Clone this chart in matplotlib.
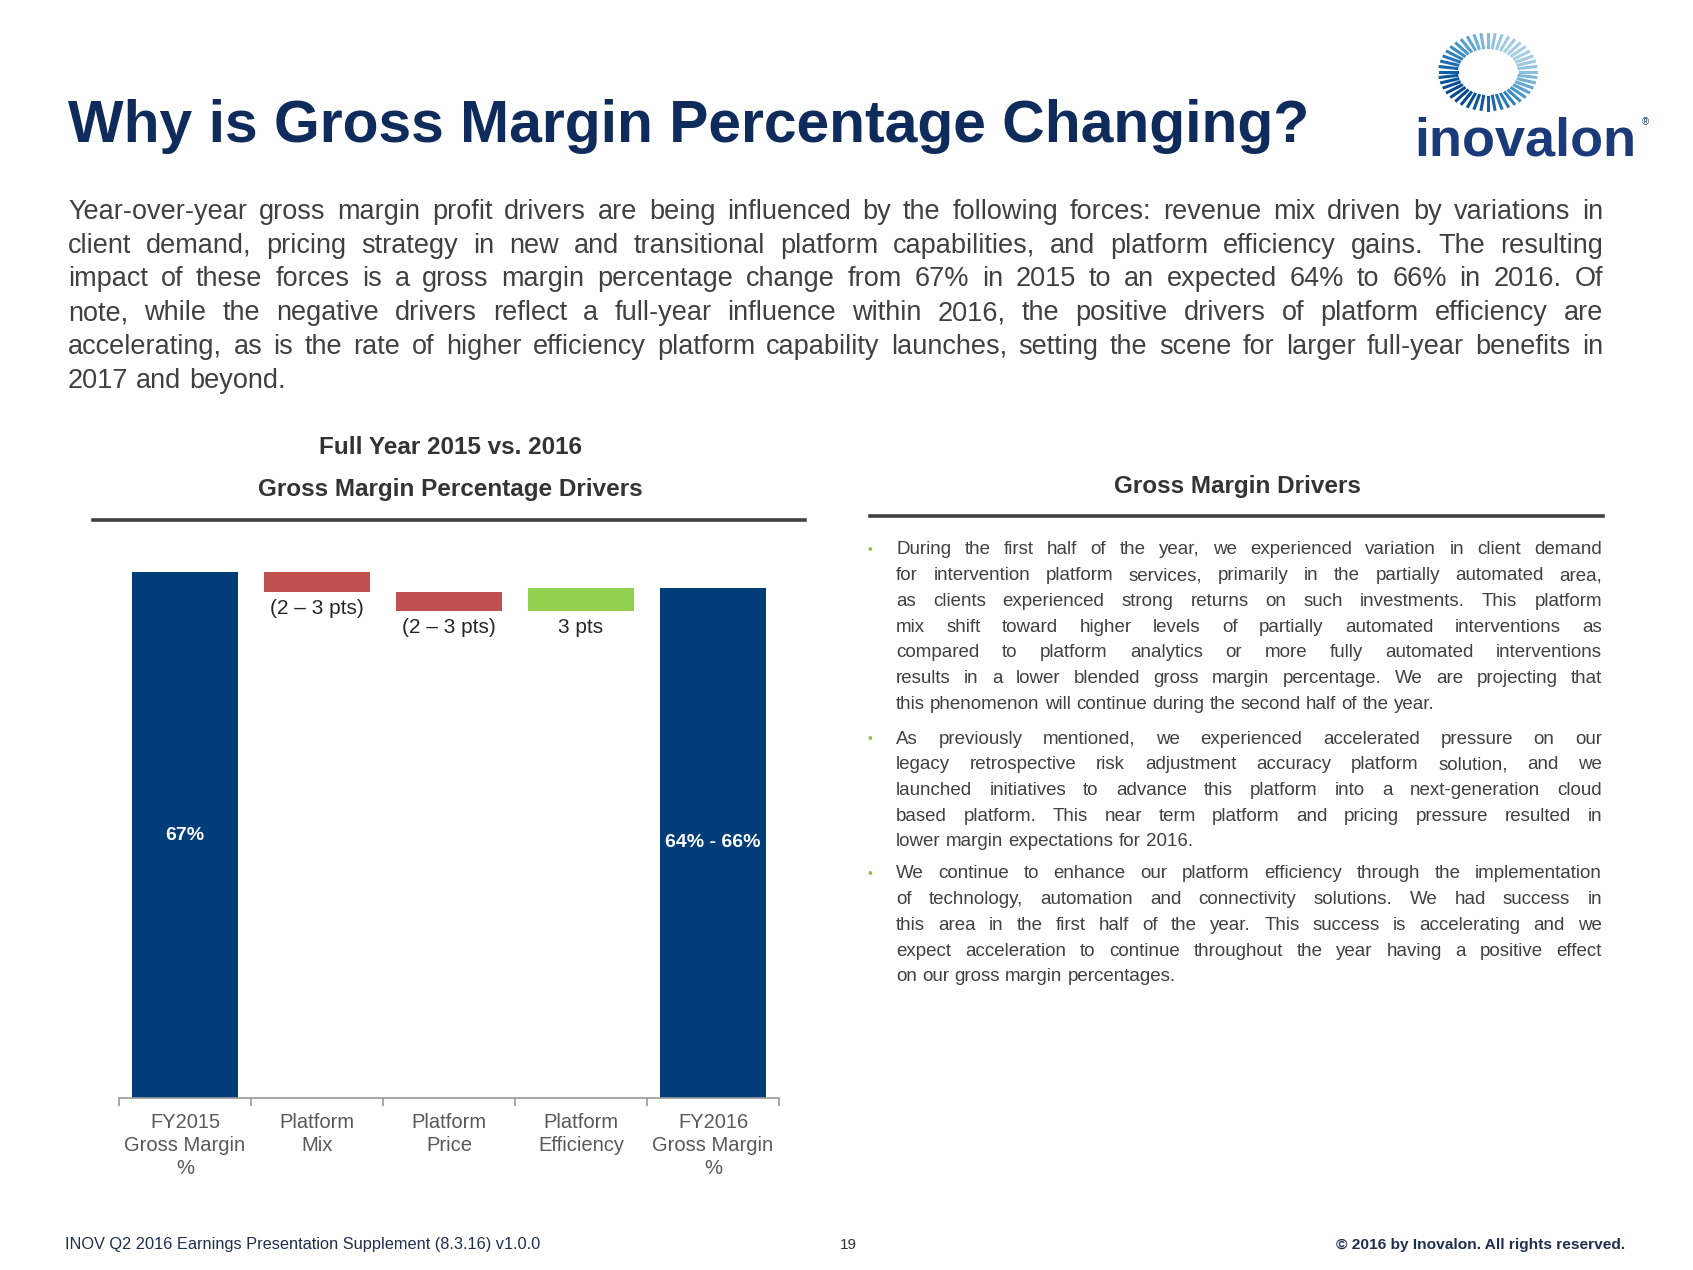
import numpy as np
import matplotlib
matplotlib.use("Agg")
import matplotlib.pyplot as plt
from matplotlib.lines import Line2D

plt.rcParams['font.family'] = ['Liberation Sans', 'DejaVu Sans']

# 数据
categories = ["FY2015\nGross Margin\n%", "Platform\nMix", "Platform\nPrice",
              "Platform\nEfficiency", "FY2016\nGross Margin\n%"]
start_value = 67.0
changes = [-2.5, -2.5, 3.0]
end_value = 65.0
change_labels = ["(2 \u2013 3 pts)", "(2 \u2013 3 pts)", "3 pts"]
total_labels = ["67%", "64% - 66%"]

title = "Why is Gross Margin Percentage Changing?"
intro_lines = [
    "Year-over-year gross margin profit drivers are being influenced by the following forces: revenue mix driven by variations in",
    "client demand, pricing strategy in new and transitional platform capabilities, and platform efficiency gains. The resulting",
    "impact of these forces is a gross margin percentage change from 67% in 2015 to an expected 64% to 66% in 2016. Of",
    "note, while the negative drivers reflect a full-year influence within 2016, the positive drivers of platform efficiency are",
    "accelerating, as is the rate of higher efficiency platform capability launches, setting the scene for larger full-year benefits in",
    "2017 and beyond.",
]
bullets = [
    ["During the first half of the year, we experienced variation in client demand",
     "for intervention platform services, primarily in the partially automated area,",
     "as clients experienced strong returns on such investments. This platform",
     "mix shift toward higher levels of partially automated interventions as",
     "compared to platform analytics or more fully automated interventions",
     "results in a lower blended gross margin percentage.  We are projecting that",
     "this phenomenon will continue during the second half of the year."],
    ["As previously mentioned, we experienced accelerated pressure on our",
     "legacy retrospective risk adjustment accuracy platform solution, and we",
     "launched initiatives to advance this platform into a next-generation cloud",
     "based platform. This near term platform and pricing pressure resulted in",
     "lower margin expectations for 2016."],
    ["We continue to enhance our platform efficiency through the implementation",
     "of technology, automation and connectivity solutions. We had success in",
     "this area in the first half of the year. This success is accelerating and we",
     "expect acceleration to continue throughout the year having a positive effect",
     "on our gross margin percentages."],
]

NAVY = '#003D79'
RED = '#C0504D'
GREEN = '#92D050'
TITLE_C = '#0F2B5B'
TEXT_C = '#404040'

W, H = 1693, 1270
fig = plt.figure(figsize=(W / 100, H / 100), dpi=100)
fig.patch.set_facecolor('white')
renderer = fig.canvas.get_renderer()


def fx(x):
    return x / W


def fy(y):
    return 1 - y / H


def text_width(s, size, **kw):
    t = fig.text(0, 0, s, fontsize=size, **kw)
    w = t.get_window_extent(renderer).width
    t.remove()
    return w


def fit_size(s, width, **kw):
    return 40 * width / text_width(s, 40, **kw)


def justify(lines, x0, x1, y0, dy, max_size, **kw):
    """两端对齐的段落, 最后一行左对齐"""
    size = max_size
    for line in lines[:-1]:
        nat = text_width(line, max_size, **kw)
        size = min(size, max_size * (x1 - x0) / nat * 0.995)
    space = text_width("a a", size, **kw) - text_width("aa", size, **kw)
    for i, line in enumerate(lines):
        words = line.split()
        y = y0 + i * dy
        texts = [fig.text(0, fy(y), w, fontsize=size, va='center', ha='left', **kw) for w in words]
        widths = [t.get_window_extent(renderer).width for t in texts]
        if i == len(lines) - 1 or len(words) < 2:
            gap = space
        else:
            gap = (x1 - x0 - sum(widths)) / (len(words) - 1)
        x = x0
        for t, w in zip(texts, widths):
            t.set_x(fx(x))
            x += w + gap
    return size


# 标题
fig.text(fx(68), fy(126), title, fontsize=fit_size(title, 1242, weight='bold'),
         weight='bold', color=TITLE_C, va='center', ha='left')

# 段落
justify(intro_lines, 68, 1603, 212, 33.7, 19.5, color=TEXT_C)

# 图表标题
fig.text(fx(450), fy(447), "Full Year 2015 vs. 2016", fontsize=17.5, weight='bold',
         color='#333333', ha='center', va='center')
fig.text(fx(450), fy(489), "Gross Margin Percentage Drivers", fontsize=17.5, weight='bold',
         color='#333333', ha='center', va='center')
fig.add_artist(Line2D([fx(93), fx(805)], [fy(520), fy(520)], color='#404040', lw=2.6))

fig.text(fx(1237), fy(487), "Gross Margin Drivers", fontsize=17.5, weight='bold',
         color='#333333', ha='center', va='center')
fig.add_artist(Line2D([fx(870), fx(1603)], [fy(516), fy(516)], color='#404040', lw=2.6))

# 瀑布图
ax = fig.add_axes([fx(119), 1 - 1098 / H, 660 / W, 549.5 / H])
x = np.arange(len(categories))
bottoms = []
heights = []
level = start_value
for c in changes:
    bottoms.append(min(level, level + c))
    heights.append(abs(c))
    level += c
colors = [RED if c < 0 else GREEN for c in changes]

ax.bar(x[0], start_value, width=0.8, color=NAVY)
ax.bar(x[1:4], heights, bottom=bottoms, width=0.8, color=colors)
ax.bar(x[4], end_value, width=0.8, color=NAVY)

ax.text(x[0], start_value / 2, total_labels[0], color='white', fontsize=14, weight='bold',
        ha='center', va='center')
ax.text(x[4], end_value / 2, total_labels[1], color='white', fontsize=14, weight='bold',
        ha='center', va='center')
for xi, b, lab in zip(x[1:4], bottoms, change_labels):
    ax.annotate(lab, (xi, b), xytext=(0, -12), textcoords='offset points',
                ha='center', va='center', fontsize=15, color='#262626')

ax.set_xlim(-0.5, 4.5)
ax.set_ylim(0, 70)
for s in ['top', 'right', 'left']:
    ax.spines[s].set_visible(False)
ax.spines['bottom'].set_color('#9A9A9A')
ax.spines['bottom'].set_linewidth(1.2)
ax.set_yticks([])
ax.set_xticks(np.arange(-0.5, 5, 1.0))
ax.set_xticklabels([])
ax.tick_params(axis='x', length=6, width=1.2, color='#9A9A9A', direction='out')
for xi, lab in zip(x, categories):
    ax.text(xi, -0.028, lab, transform=ax.get_xaxis_transform(), ha='center', va='top',
            fontsize=14.5, color='#595959', linespacing=1.25)

# 右侧要点
bullet_starts = [550, 739, 874]
bsize = 13.5
for lines in bullets:
    for line in lines[:-1]:
        bsize = min(bsize, 13.5 * 706 / text_width(line, 13.5) * 0.995)
for lines, y0 in zip(bullets, bullet_starts):
    fig.text(fx(870), fy(y0), "\u2022", color='#8DC63F', fontsize=10, ha='center', va='center')
    justify(lines, 896, 1602, y0, 25.7, bsize, color=TEXT_C)

# 页脚
foot = "INOV Q2 2016 Earnings Presentation Supplement (8.3.16) v1.0.0"
fig.text(fx(65), fy(1245), foot, fontsize=fit_size(foot, 475), color='#1F2F4F',
         ha='left', va='center')
fig.text(fx(848), fy(1245), "19", fontsize=11, color='#333333', ha='center', va='center')
copy = "\u00a9 2016 by Inovalon. All rights reserved."
fig.text(fx(1625), fy(1245), copy, fontsize=fit_size(copy, 288, weight='bold'), weight='bold',
         color='#1F2F4F', ha='right', va='center')

# logo
cx, cy = 1488, 72
n_dash = 44
for k, a in enumerate(np.linspace(0, 2 * np.pi, n_dash, endpoint=False)):
    r_in, r_out = 30, 46
    xs = [cx + r_in * np.cos(a) * 1.05, cx + r_out * np.cos(a) * 1.05]
    ys = [cy - r_in * np.sin(a) * 0.82, cy - r_out * np.sin(a) * 0.82]
    shade = 0.5 + 0.5 * np.cos(a - 3.9)
    col = plt.cm.Blues(0.35 + 0.55 * shade)
    fig.add_artist(Line2D([fx(v) for v in xs], [fy(v) for v in ys], color=col, lw=2.2))
fig.text(fx(1414), fy(142), "inovalon", fontsize=fit_size("inovalon", 222, weight='bold'),
         weight='bold', color='#1B3A7A', ha='left', va='center')
fig.text(fx(1642), fy(122), "\u00ae", fontsize=7, color='#1B3A7A', ha='left', va='center')

fig.savefig("out.png", dpi=100, facecolor='white')
